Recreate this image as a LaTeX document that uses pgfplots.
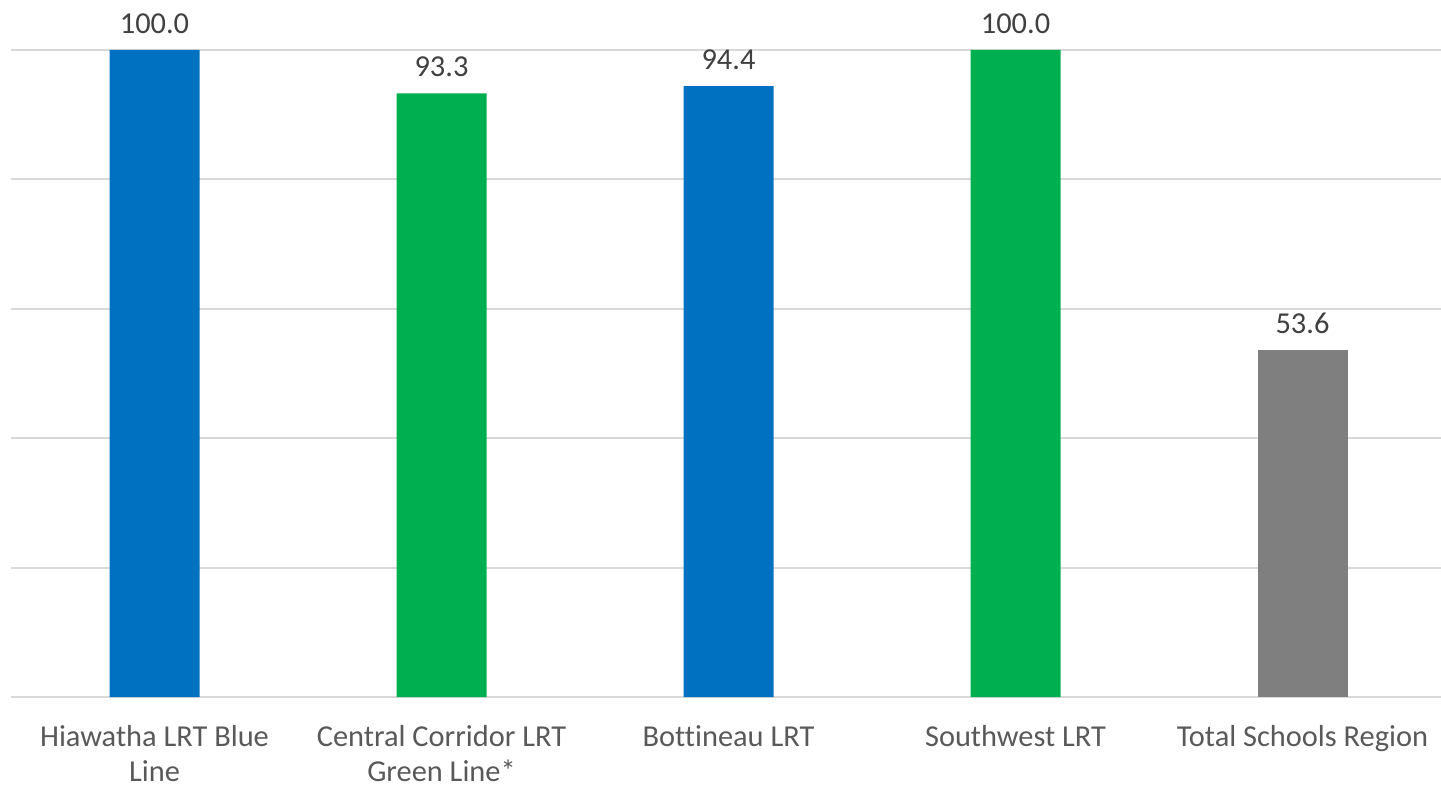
\documentclass[border=0pt]{standalone}
\usepackage{pgfplots}
\pgfplotsset{compat=1.18}
\usepackage{fontspec}
\setmainfont{Carlito}[Ligatures={NoCommon}]
\definecolor{barblue}{HTML}{0070C0}
\definecolor{bargreen}{HTML}{00B050}
\definecolor{bargray}{HTML}{7F7F7F}
\definecolor{gridgray}{HTML}{D9D9D9}
\definecolor{ticktext}{HTML}{595959}
\definecolor{labeltext}{HTML}{404040}
\begin{document}
\begin{tikzpicture}
\useasboundingbox (-5.5pt,-45.5pt) rectangle (715pt,348.5pt);
\begin{axis}[
  at={(0pt,0pt)}, anchor=south west,
  scale only axis,
  width=717.5pt, height=323.5pt,
  xmin=-0.5, xmax=4.5,
  ymin=0, ymax=100,
  axis line style={draw=none},
  ytick={0,20,40,60,80,100},
  yticklabels={},
  ymajorgrids,
  grid style={gridgray, line width=1pt},
  major tick length=0pt,
  xtick={0,1,2,3,4},
  xticklabels={{Hiawatha LRT Blue\\Line},{Central Corridor LRT\\Green Line*},{Bottineau LRT},{Southwest LRT},{Total Schools Region}},
  xticklabel style={align=center, font=\fontsize{15.2}{17.5}\selectfont, text=ticktext, anchor=north, inner sep=0pt, yshift=-14pt},
  ybar, bar width=45pt, bar shift=0pt,
  clip=false,
  nodes near coords,
  nodes near coords style={font=\fontsize{15.2}{18}\selectfont, text=labeltext, anchor=south, inner sep=0pt, yshift=8pt,
    /pgf/number format/.cd, fixed, fixed zerofill, precision=1, assume math mode=true},
]
\addplot[fill=barblue, draw=none] coordinates {(0,100) (2,94.4)};
\addplot[fill=bargreen, draw=none] coordinates {(1,93.3) (3,100)};
\addplot[fill=bargray, draw=none] coordinates {(4,53.6)};
\end{axis}
\end{tikzpicture}
\end{document}
